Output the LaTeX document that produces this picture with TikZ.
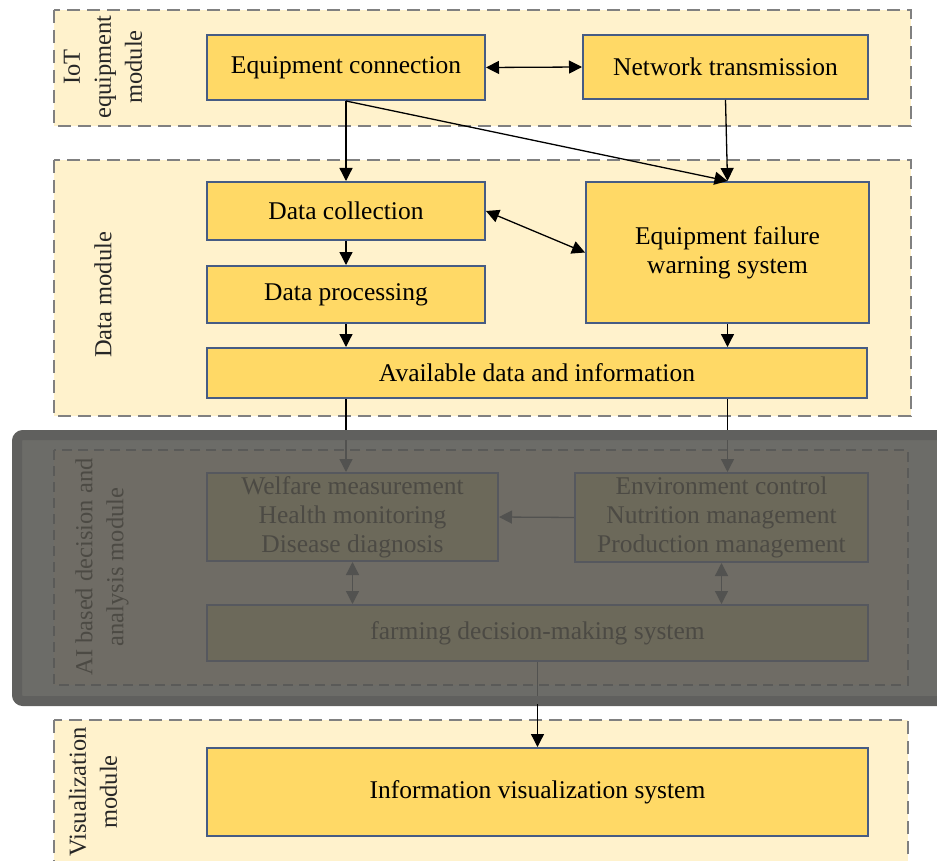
\documentclass[tikz,border=0pt]{standalone}
\usepackage{fontspec}
\setmainfont{Liberation Serif}
\usetikzlibrary{calc,positioning,arrows.meta}
\definecolor{boxfill}{RGB}{255,217,102}
\definecolor{boxline}{RGB}{70,92,132}
\definecolor{framefill}{RGB}{255,242,204}
\definecolor{frameline}{RGB}{128,128,128}
% muted colours under the grey overlay
\definecolor{shadefill}{RGB}{108,108,104}
\definecolor{shadeline}{RGB}{96,96,94}
\definecolor{dimframe}{RGB}{111,108,101}
\definecolor{dimdash}{RGB}{90,90,88}
\definecolor{dimbox}{RGB}{108,105,90}
\definecolor{dimline}{RGB}{86,88,94}
\definecolor{dimtext}{RGB}{76,74,68}
\definecolor{dimwire}{RGB}{82,82,80}
\tikzset{
  box/.style={draw=boxline, fill=boxfill, line width=2pt, inner sep=2pt, align=center,
    font=\fontsize{25.5}{29}\selectfont},
  dimbox/.style={box, draw=dimline, fill=dimbox, text=dimtext},
  frame/.style={draw=frameline, fill=framefill, line width=2pt, dash pattern=on 13pt off 7pt},
  dimframe/.style={draw=dimdash, fill=dimframe, line width=1.6pt, dash pattern=on 10pt off 6pt},
  modlabel/.style={rotate=90, align=center, text=black!85, font=\fontsize{24.5}{31}\selectfont},
  wire/.style={line width=1.3pt},
  arr/.style={wire, -{Triangle[length=13pt,width=13pt]}},
  dbl/.style={wire, {Triangle[length=13pt,width=13pt]}-{Triangle[length=13pt,width=13pt]}},
  dim/.style={draw=dimwire}
}

\begin{document}
\begin{tikzpicture}[x=1pt,y=-1pt]
  \useasboundingbox (0,0) rectangle (937,861);
  % module frames
  \draw[frame] (54,10) rectangle (911,126);
  \draw[frame] (54,160) rectangle (911,416);
  \draw[frame] (54,720) rectangle (908,880);
  \node[modlabel] (lbliot) at (103,67) {IoT\\equipment\\module};
  \node[modlabel] (lbldata) at (103,295) {Data module};
  \node[modlabel] (lblvis) at (93,792) {Visualization\\module};
  % boxes
  \node[box, minimum width=278pt, minimum height=65pt] (ec) at (346,67.5) {Equipment connection};
  \node[box, minimum width=285pt, minimum height=64pt] (nt) at (725.5,67) {Network transmission};
  \node[box, minimum width=278pt, minimum height=58pt] (dc) at (346,211) {Data collection};
  \node[box, minimum width=278pt, minimum height=57pt] (dp) at (346,294.5) {Data processing};
  \node[box, minimum width=283pt, minimum height=141pt] (efws) at (727.5,252.5) {Equipment failure\\warning system};
  \node[box, minimum width=660pt, minimum height=50pt] (adi) at (537,373) {Available data and information};
  \node[box, minimum width=661pt, minimum height=88pt] (ivs) at (537.5,792) {Information visualization system};
  % connectors
  \draw[dbl] (ec.east) -- (nt.west);
  \draw[arr] (ec.south) -- (dc.north);
  \draw[arr] (ec.south) -- (efws.north);
  \draw[arr] (nt.south) -- (efws.north);
  \draw[dbl] (dc.east) -- (efws.west);
  \draw[arr] (dc.south) -- (dp.north);
  \draw[arr] (dp.south) -- (dp.south |- adi.north);
  \draw[arr] (efws.south) -- (efws.south |- adi.north);
  % grey overlay on the AI module
  \coordinate (ovtop) at (0,432);
  \coordinate (ovin) at (0,440);
  \coordinate (ovinb) at (0,696);
  \coordinate (ovbot) at (0,704);
  \draw[wire] (dp.south |- adi.south) -- (dp.south |- ovtop);
  \draw[wire] (efws.south |- adi.south) -- (efws.south |- ovtop);
  \draw[shadeline, fill=shadefill, line width=10pt, rounded corners=6pt] (17,435) rectangle (950,701);
  \draw[dimframe] (54,450) rectangle (908,685);
  \node[modlabel, text=dimtext] (lblai) at (102,567) {AI based decision and\\analysis module};
  \node[dimbox, minimum width=291pt, minimum height=88pt] (wel) at (352.5,517) {Welfare measurement\\Health monitoring\\Disease diagnosis};
  \node[dimbox, minimum width=293pt, minimum height=89pt] (env) at (721.5,517.5) {Environment control\\Nutrition management\\Production management};
  \node[dimbox, minimum width=661pt, minimum height=56pt] (fdm) at (537.5,633) {farming decision-making system};
  \draw[arr, dim] (dp.south |- ovin) -- (dp.south |- wel.north);
  \draw[arr, dim] (efws.south |- ovin) -- (efws.south |- env.north);
  \draw[arr, dim] (env.west) -- (wel.east);
  \draw[dbl, dim] (wel.south) -- (wel.south |- fdm.north);
  \draw[dbl, dim] (env.south) -- (env.south |- fdm.north);
  \draw[wire, dim] (fdm.south) -- (fdm.south |- ovinb);
  \draw[arr] (fdm.south |- ovbot) -- (ivs.north);
\end{tikzpicture}
\end{document}
